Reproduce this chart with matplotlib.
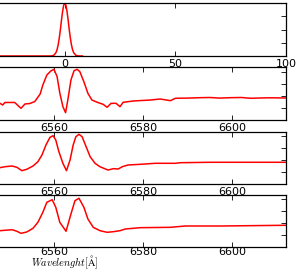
import matplotlib
matplotlib.use('Agg')
import matplotlib.pyplot as plt

plt.rcParams['mathtext.fontset'] = 'cm'

# panel 1: line profile (velocity grid)
prof_x = [-30, -8, -7, -6, -5, -4, -3.5, -3, -2.5, -2, -1.5, -1, -0.5, 0,
          0.5, 1, 1.5, 2, 2.5, 3, 3.5, 4, 5, 6, 7, 8]
prof_y = [0, 0, 0, 0.002, 0.013, 0.063, 0.12, 0.211, 0.34, 0.5, 0.68, 0.841, 0.958, 1.0,
          0.958, 0.841, 0.68, 0.5, 0.34, 0.211, 0.12, 0.063, 0.013, 0.002, 0, 0]

# panel 2: observed spectrum
wl_a = [6547.9, 6548.5, 6549.0, 6551.2, 6552.6, 6553.5, 6554.6, 6555.7, 6556.9, 6557.5,
        6558.4, 6559.3, 6560.0, 6560.7, 6561.3, 6562.0, 6562.6, 6563.1, 6563.8, 6564.5,
        6565.2, 6565.8, 6566.7, 6567.6, 6568.5, 6569.7, 6571.0, 6571.9, 6572.8, 6573.9,
        6574.8, 6575.5, 6577.8, 6581.6, 6583.8, 6586.1, 6587.2, 6590.0, 6592.8, 6595.0,
        6597.0, 6599.6, 6602.0, 6604.0, 6606.3, 6608.0, 6612.0]
fl_a = [0.878, 0.85, 0.892, 0.892, 0.795, 0.867, 0.875, 0.908, 1.033, 1.183,
        1.35, 1.417, 1.445, 1.322, 1.05, 0.822, 0.722, 0.933, 1.267, 1.422,
        1.445, 1.405, 1.238, 1.045, 0.933, 0.895, 0.862, 0.812, 0.878, 0.878,
        0.822, 0.895, 0.917, 0.933, 0.95, 0.922, 0.962, 0.965, 0.972, 0.975,
        0.965, 0.972, 0.975, 0.962, 0.967, 0.97, 0.967]

# panel 3: model spectrum
wl_b = [6547.9, 6549.0, 6550.6, 6551.7, 6552.8, 6553.9, 6555.3, 6556.4, 6557.3, 6558.2,
        6559.1, 6559.8, 6560.4, 6561.1, 6562.0, 6562.8, 6563.6, 6564.3, 6564.9, 6565.6,
        6566.3, 6567.2, 6568.1, 6569.2, 6570.3, 6572.1, 6573.3, 6574.4, 6575.3, 6576.6,
        6579.3, 6582.7, 6587.2, 6588.3, 6595.1, 6604.0, 6612.0]
fl_b = [0.872, 0.888, 0.90, 0.878, 0.822, 0.845, 0.90, 0.972, 1.083, 1.25,
        1.378, 1.405, 1.333, 1.138, 0.945, 0.822, 1.0, 1.25, 1.388, 1.428,
        1.388, 1.222, 1.055, 0.945, 0.888, 0.833, 0.855, 0.85, 0.888, 0.917,
        0.928, 0.945, 0.945, 0.955, 0.962, 0.962, 0.962]

# panel 4: convolved spectrum
wl_c = [6547.9, 6550.6, 6551.7, 6552.6, 6553.9, 6555.3, 6556.4, 6557.5, 6558.4, 6559.6,
        6560.4, 6561.3, 6562.7, 6563.8, 6564.7, 6565.6, 6566.7, 6567.6, 6568.8, 6570.3,
        6571.9, 6573.3, 6574.8, 6576.0, 6579.3, 6586.1, 6589.4, 6597.3, 6612.0]
fl_c = [0.872, 0.888, 0.862, 0.828, 0.85, 0.912, 1.012, 1.178, 1.345, 1.388,
        1.262, 1.012, 0.862, 1.15, 1.372, 1.412, 1.262, 1.067, 0.928, 0.872,
        0.845, 0.855, 0.872, 0.90, 0.922, 0.928, 0.95, 0.95, 0.962]

fig = plt.figure(figsize=(2.97, 2.71), dpi=100)
W, H = 297.0, 271.0
right = 286 / W


def make_ax(top_px, bot_px):
    ax = fig.add_axes([0, 1 - bot_px / H, right, (bot_px - top_px) / H])
    ax.spines['left'].set_visible(False)
    for s in ax.spines.values():
        s.set_linewidth(0.9)
    ax.tick_params(direction='in', top=True, right=True, left=False,
                   labelleft=False, length=3.5, width=0.6, labelsize=8, pad=2)
    return ax


ax1 = make_ax(3, 56)
ax1.plot(prof_x, prof_y, color='red', lw=1.1)
ax1.set_xlim(-29.3, 100)
ax1.set_ylim(0, 1)
ax1.set_xticks([0, 50, 100])
ax1.set_yticks([0, 0.25, 0.5, 0.75, 1.0])

panels = [(67, 120, wl_a, fl_a), (132, 184, wl_b, fl_b), (195, 247, wl_c, fl_c)]
axes = []
for top_px, bot_px, wl, fl in panels:
    ax = make_ax(top_px, bot_px)
    ax.plot(wl, fl, color='red', lw=1.1)
    ax.set_xlim(6547.9, 6612.0)
    ax.set_ylim(0.6, 0.6 + (bot_px - top_px) / 60.0)
    ax.set_xticks([6560, 6580, 6600])
    ax.set_yticks([0.6, 0.8, 1.0, 1.2, 1.4])
    axes.append(ax)
axes[-1].tick_params(axis='x', pad=0)

fig.text(65 / W, 0.0, r'$Wavelenght[\mathrm{\AA}]$', ha='center', va='bottom', fontsize=7.4)

fig.savefig('out.png', dpi=100)
